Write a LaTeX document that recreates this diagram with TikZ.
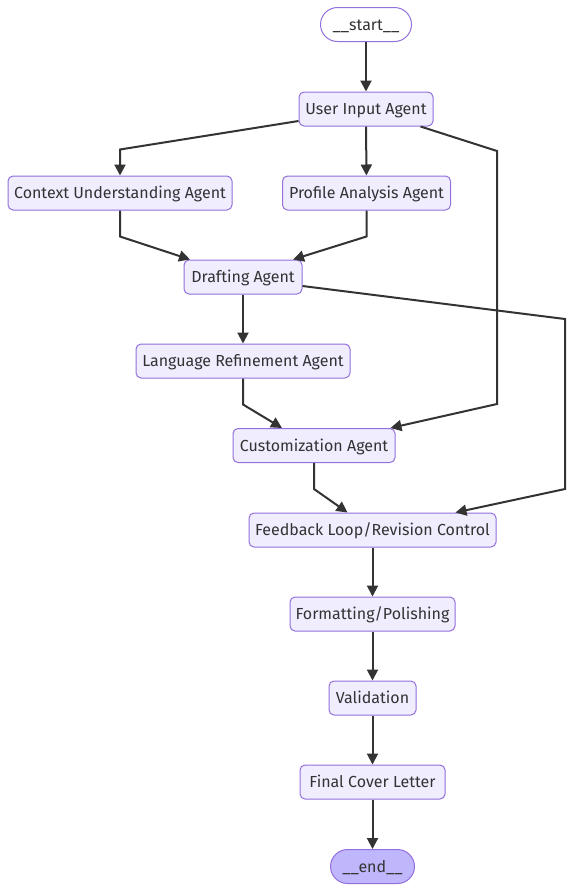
\documentclass[tikz,border=0pt]{standalone}
\usepackage{fontspec}
\setmainfont{Fira Sans}
\usetikzlibrary{arrows.meta,calc}
\definecolor{nodefill}{HTML}{F0EDFF}
\definecolor{nodeborder}{HTML}{9370DB}
\definecolor{edgecol}{HTML}{333333}
\definecolor{endfill}{HTML}{BFB6FC}
\begin{document}
\begin{tikzpicture}[x=1pt,y=-1pt,
  box/.style={draw=nodeborder, fill=nodefill, rounded corners=5pt, minimum height=34pt,
    inner xsep=2pt, inner ysep=0pt, text height=13pt, text depth=2pt,
    font=\fontsize{16}{19}\selectfont, text=edgecol, line width=1pt},
  term/.style={box, rounded corners=17pt},
  edge/.style={draw=edgecol, line width=2pt, -{Triangle[length=11pt,width=11pt]}}]
\useasboundingbox[fill=white] (0,0) rectangle (573,892);
\node[term, fill=white, minimum width=91pt] (start) at (366,24.5) {\_\_start\_\_};
\node[box, minimum width=134pt] (uia) at (366,109) {User Input Agent};
\node[box, minimum width=224pt] (ctx) at (120,193) {Context Understanding Agent};
\node[box, minimum width=168pt] (pa) at (366.5,193) {Profile Analysis Agent};
\node[box, minimum width=118pt] (draft) at (243,277) {Drafting Agent};
\node[box, minimum width=214pt] (lr) at (243,361) {Language Refinement Agent};
\node[box, minimum width=162pt] (cust) at (314,445.5) {Customization Agent};
\node[box, minimum width=247pt] (fb) at (372.5,530) {Feedback Loop/Revision Control};
\node[box, minimum width=165pt] (fmt) at (372.5,614) {Formatting/Polishing};
\node[box, minimum width=87pt] (val) at (372.5,698) {Validation};
\node[box, minimum width=145pt] (fcl) at (372.5,782) {Final Cover Letter};
\node[term, fill=endfill, minimum width=84pt] (end) at (372.5,866.5) {\_\_end\_\_};

\coordinate (b1) at (497,151);
\coordinate (b2) at (497,404);
\coordinate (b3) at (565,319);
\coordinate (b4) at (565,489);

\draw[edge] (start) -- (uia);
\draw[edge] ($(uia.west)+(0,12)$) -- ($(ctx.north)+(0,-26)$) -- (ctx.north);
\draw[edge] (uia) -- (pa);
\draw[edge] ($(uia.south east)+(-13,0)$) -- (b1) -- (b2) -- ($(cust.north east)+(-5,0)$);
\draw[edge] (ctx.south) -- ($(ctx.south)+(0,26)$) -- ($(draft.north)+(-53,0)$);
\draw[edge] (pa.south) -- ($(pa.south)+(0,26)$) -- ($(draft.north)+(50,0)$);
\draw[edge] (draft) -- (lr);
\draw[edge] ($(draft.east)+(0,9)$) -- (b3) -- (b4) -- ($(fb.north)+(83,0)$);
\draw[edge] (lr.south) -- ($(lr.south)+(0,26)$) -- ($(cust.north)+(-32,0)$);
\draw[edge] (cust.south) -- ($(cust.south)+(0,26)$) -- ($(fb.north)+(-25,0)$);
\draw[edge] (fb) -- (fmt);
\draw[edge] (fmt) -- (val);
\draw[edge] (val) -- (fcl);
\draw[edge] (fcl) -- (end);
\end{tikzpicture}
\end{document}
